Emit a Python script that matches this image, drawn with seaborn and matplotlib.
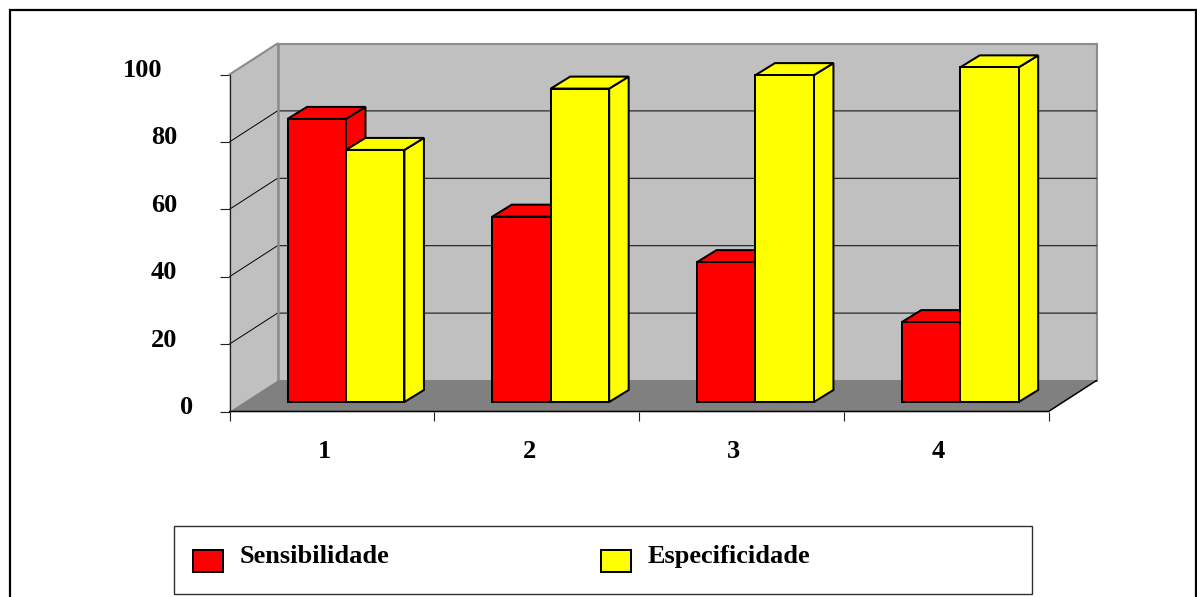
import matplotlib
matplotlib.use("Agg")
import matplotlib.pyplot as plt
from matplotlib.patches import Polygon, Rectangle
from matplotlib.transforms import ScaledTranslation
import pandas as pd
import seaborn as sns

# Chart data
groups = ["1", "2", "3", "4"]
sensibilidade = [84, 55, 41.5, 23.7]
especificidade = [74.8, 93, 97, 99.3]
y_ticks = [0, 20, 40, 60, 80, 100]
series_colors = {"Sensibilidade": "#FF0000", "Especificidade": "#FFFF00"}

W, H = 1197, 597
WALL = "#C0C0C0"
FLOOR = "#808080"
EDGE_LW = 1.45

sns.set_theme(style="white")
plt.rcParams["font.family"] = ["Liberation Serif", "DejaVu Serif"]
plt.rcParams["font.weight"] = "bold"
plt.rcParams["text.color"] = "black"

df = pd.DataFrame({
    "grupo": groups * 2,
    "valor": sensibilidade + especificidade,
    "serie": ["Sensibilidade"] * 4 + ["Especificidade"] * 4,
})

fig = plt.figure(figsize=(W / 100, H / 100), dpi=100, facecolor="white")


def box(left, top, right, bottom):
    return [left / W, 1 - bottom / H, (right - left) / W, (bottom - top) / H]


# Outer frame runs past the bottom edge of the canvas
fig.add_artist(Rectangle((9.5 / W, -0.05), (1196 - 9.5) / W, 1.05 - 10 / H,
                         transform=fig.transFigure, fill=False,
                         edgecolor="black", linewidth=1.6))

# Front plane of the 3D box: carries the axis ticks
ax = fig.add_axes(box(229.5, 74.5, 1048.5, 411.5))
ax.set_xlim(0, 4)
ax.set_ylim(0, 100)
ax.patch.set_visible(False)
for name in ("top", "right", "bottom"):
    ax.spines[name].set_visible(False)
ax.spines["left"].set_linewidth(0.9)
ax.spines["left"].set_color("#202020")

depth_x = 48.0 / (819 / 4)
depth_y = 31.0 / 3.37

# Walls and floor
ax.add_patch(Polygon([(depth_x, depth_y), (4 + depth_x, depth_y),
                      (4 + depth_x, 100 + depth_y), (depth_x, 100 + depth_y)],
                     closed=True, facecolor=WALL, edgecolor="#8C8C8C",
                     linewidth=1.5, clip_on=False, zorder=1))
ax.add_patch(Polygon([(0, 0), (depth_x, depth_y), (depth_x, 100 + depth_y), (0, 100)],
                     closed=True, facecolor=WALL, edgecolor="none",
                     clip_on=False, zorder=1))
ax.plot([0, depth_x], [100, 100 + depth_y], color="#8C8C8C", lw=1.5,
        clip_on=False, zorder=1.2)
ax.plot([depth_x, depth_x], [depth_y, 100 + depth_y], color="#8C8C8C", lw=1.8,
        clip_on=False, zorder=1.2)
ax.add_patch(Polygon([(0, 0), (4, 0), (4 + depth_x, depth_y), (depth_x, depth_y)],
                     closed=True, facecolor=FLOOR, edgecolor="none",
                     clip_on=False, zorder=1.3))

# Gridlines on the side and back walls
for v in y_ticks[1:-1]:
    ax.plot([0, depth_x, 4 + depth_x], [v, v + depth_y, v + depth_y],
            color="black", lw=0.7, clip_on=False, zorder=1.1)

# Front and right edges of the floor
ax.plot([0, 4, 4 + depth_x], [0, 0, depth_y], color="black", lw=1.1,
        clip_on=False, zorder=1.4)

# Ticks: major at group boundaries, minor carrying the group labels
ax.set_xticks(range(5))
ax.set_xticklabels([])
ax.set_xticks([i + 0.5 - 7.5 / 204.75 for i in range(4)], labels=groups, minor=True)
ax.tick_params(axis="x", which="major", length=6.8, width=0.8, color="#202020",
               bottom=True)
ax.tick_params(axis="x", which="minor", length=0, pad=20.5, labelsize=19)
ax.set_yticks(y_ticks)
ax.set_yticklabels([str(v) for v in y_ticks])
ax.tick_params(axis="y", length=7.5, width=0.8, color="#202020", left=True,
               pad=0, labelsize=19)
label_shift_px = {0: -26, 20: -42, 40: -42, 60: -42, 80: -42, 100: -57}
for lab, v in zip(ax.get_yticklabels(), y_ticks):
    shift = ScaledTranslation(label_shift_px[v] / 100, 6.5 / 100, fig.dpi_scale_trans)
    lab.set_transform(lab.get_transform() + shift)
for lab in ax.get_xticklabels(minor=True) + ax.get_yticklabels():
    lab.set_fontweight("bold")
    lab.set_color("black")

# Bars sit a little further back, on the floor
bars_ax = fig.add_axes(box(243.6, 65, 1062.6, 402))
sns.barplot(data=df, x="grupo", y="valor", hue="serie", palette=series_colors,
            order=groups, hue_order=list(series_colors), width=0.571, dodge=True,
            saturation=1, edgecolor="black", linewidth=EDGE_LW, ax=bars_ax)
bars_ax.set_xlim(-0.5, 3.5)
bars_ax.set_ylim(0, 100)
bars_ax.axis("off")

bar_dx = 19.5 / 204.75
bar_dy = 12.0 / 3.37
for k, (container, color) in enumerate(zip(bars_ax.containers, series_colors.values())):
    for bar in container:
        bar.set_zorder(5)
        bar.set_clip_on(False)
        x0 = bar.get_x()
        x1 = x0 + bar.get_width()
        h = bar.get_height()
        side = [(x1, 0), (x1 + bar_dx, bar_dy), (x1 + bar_dx, h + bar_dy), (x1, h)]
        top = [(x0, h), (x0 + bar_dx, h + bar_dy), (x1 + bar_dx, h + bar_dy), (x1, h)]
        for pts in (side, top):
            bars_ax.add_patch(Polygon(pts, closed=True, facecolor=color,
                                      edgecolor="black", linewidth=EDGE_LW,
                                      joinstyle="miter", clip_on=False, zorder=3 + k))

# Legend box with one row of entries
fig.add_artist(Rectangle((174 / W, 1 - 594 / H), (1032 - 174) / W, (594 - 526) / H,
                         transform=fig.transFigure, facecolor="white",
                         edgecolor="#303030", linewidth=1.0))
handles, labels = bars_ax.get_legend_handles_labels()
if bars_ax.get_legend() is not None:
    bars_ax.get_legend().remove()
leg = fig.legend(handles, labels, ncol=2, frameon=False, loc="upper left",
                 bbox_to_anchor=(193 / W, 1 - 543 / H), borderaxespad=0, borderpad=0,
                 handlelength=1.14, handleheight=0.93, handletextpad=0.64,
                 columnspacing=8.0, prop={"size": 19, "weight": "bold"},
                 labelcolor="black")
for handle in leg.legend_handles:
    handle.set_y(handle.get_y() - 5)
    handle.set_edgecolor("black")
    handle.set_linewidth(EDGE_LW)

fig.savefig("out.png", dpi=100)
